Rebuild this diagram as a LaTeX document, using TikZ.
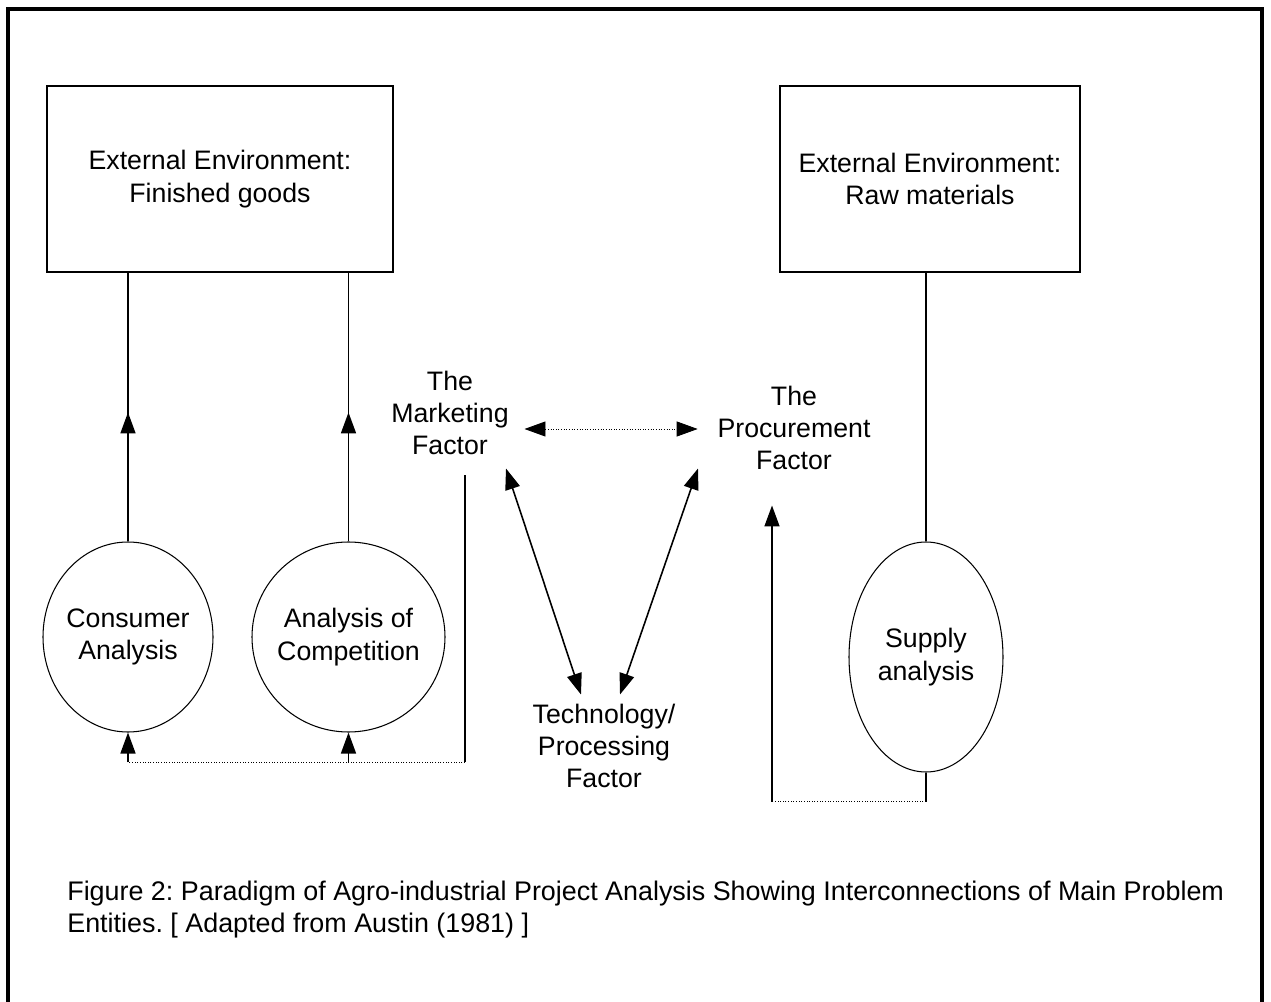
\documentclass[tikz,border=0pt]{standalone}
\usepackage{fontspec}
\setmainfont{Liberation Sans}
\usepackage{tikz}
\usetikzlibrary{shapes.geometric,arrows.meta,positioning,calc,decorations.markings}
\frenchspacing

\begin{document}
\begin{tikzpicture}[
    envbox/.style={rectangle, draw, line width=0.6pt, minimum height=3.72cm, align=center, font=\fontsize{15.2pt}{18.4pt}\selectfont},
    oval/.style={ellipse, draw, line width=0.6pt, inner sep=0pt},
    factor/.style={inner sep=0pt, align=center, font=\fontsize{15.2pt}{18.4pt}\selectfont},
    conn/.style={line width=0.9pt},
    faint/.style={line width=0.5pt, densely dotted},
    arrowend/.style={-{Triangle[length=0.42cm, width=0.30cm]}},
    arrowboth/.style={{Triangle[length=0.42cm, width=0.30cm]}-{Triangle[length=0.42cm, width=0.30cm]}},
    midtip/.style={postaction={decorate}, decoration={markings, mark=at position #1 with {\arrow{Triangle[length=0.42cm, width=0.30cm]}}}}
]
    \useasboundingbox (0,0) rectangle (25.42,-20.04);
    % frame
    \draw[line width=2.3pt] (0.16,-20.04) -- (0.16,-0.18) -- (25.24,-0.18) -- (25.24,-20.04);

    % external environment boxes
    \node[envbox, minimum width=6.92cm] (fin) at (4.40,-3.58) {External Environment:\\Finished goods};
    \node[envbox, minimum width=6.00cm] (raw) at (18.60,-3.58) {External Environment:\\Raw materials};

    % analysis ovals
    \node[oval, minimum width=3.40cm, minimum height=3.80cm] (cons) at (2.56,-12.74) {};
    \node[factor] (conslbl) at (cons) {Consumer\\Analysis};
    \node[oval, minimum width=3.86cm, minimum height=3.80cm] (comp) at (6.97,-12.74) {};
    \node[factor] (complbl) at (comp) {Analysis of\\Competition};
    \node[oval, minimum width=3.08cm, minimum height=4.60cm] (supp) at (18.52,-13.14) {};
    \node[factor] (supplbl) at (supp) {Supply\\analysis};

    % factors
    \node[factor] (mkt) at (9.00,-8.26) {The\\Marketing\\Factor};
    \node[factor] (proc) at (15.88,-8.56) {The\\Procurement\\Factor};
    \node[factor] (tech) at (12.08,-14.92) {Technology/\\Processing\\Factor};

    % links to the environment
    \draw[conn, midtip=0.48] (cons.north) -- (cons.north |- fin.south);
    \draw[conn, midtip=0.48] (comp.north) -- (comp.north |- fin.south);
    \draw[conn] (supp.north) -- (supp.north |- raw.south);

    % links between the factors
    \draw[faint, arrowboth] ($(mkt.east)+(0.31,-0.32)$) -- ($(proc.west)+(-0.39,-0.02)$);
    \draw[conn, arrowboth] ($(mkt.south)+(1.12,-0.26)$) -- ($(tech.north)+(-0.46,0.18)$);
    \draw[conn, arrowboth] ($(proc.south)+(-1.92,0.04)$) -- ($(tech.north)+(0.32,0.18)$);

    % feedback from marketing
    \coordinate (fb) at ($(mkt.south)+(0.30,-6.14)$);
    \draw[conn] ($(mkt.south)+(0.30,-0.40)$) -- (fb);
    \draw[faint] (fb) -- (fb -| cons.south);
    \draw[conn, arrowend] (fb -| cons.south) -- (cons.south);
    \draw[conn, arrowend] (fb -| comp.south) -- (comp.south);

    % feedback from supply
    \coordinate (sb) at ($(supp.south)+(0,-0.58)$);
    \coordinate (pt) at ($(proc.south)+(-0.44,-0.70)$);
    \draw[conn] (supp.south) -- (sb);
    \draw[faint] (sb) -- (sb -| pt);
    \draw[conn, arrowend] (sb -| pt) -- (pt);

    % caption
    \node[factor, align=left, anchor=west, font=\fontsize{15.3pt}{18.7pt}\selectfont] (cap) at (1.34,-18.19)
        {Figure 2: Paradigm of Agro-industrial Project Analysis Showing Interconnections of Main Problem\\Entities. [ Adapted from Austin (1981) ]};
\end{tikzpicture}
\end{document}
